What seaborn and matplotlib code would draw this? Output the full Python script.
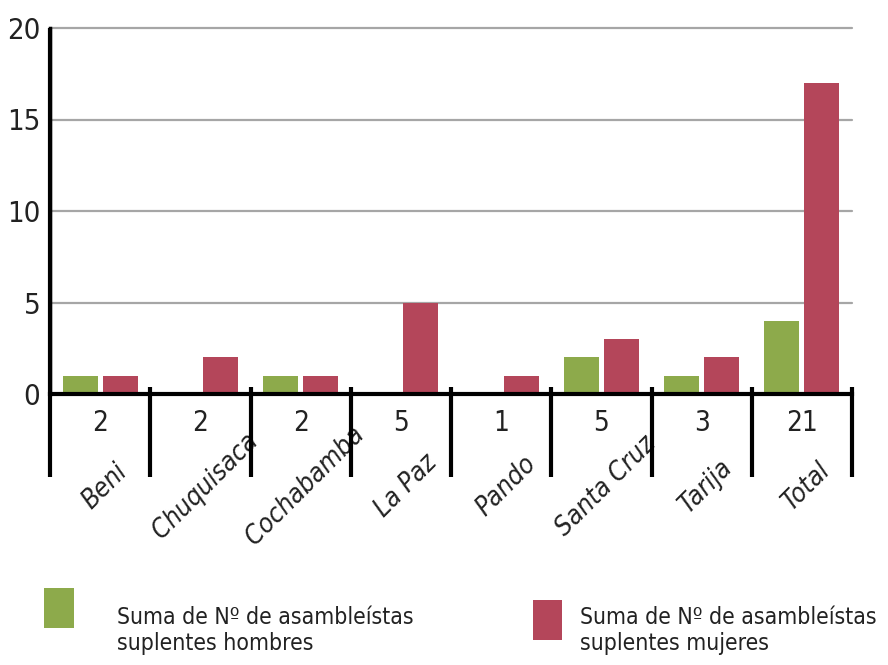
import matplotlib
matplotlib.use('Agg')
import matplotlib.pyplot as plt
import seaborn as sns
import pandas as pd
from matplotlib.patches import Rectangle
from matplotlib.transforms import blended_transform_factory

departamentos = ["Beni", "Chuquisaca", "Cochabamba", "La Paz", "Pando", "Santa Cruz", "Tarija", "Total"]
hombres = [1, 0, 1, 0, 0, 2, 1, 4]
mujeres = [1, 2, 1, 5, 1, 3, 2, 17]
totales = [2, 2, 2, 5, 1, 5, 3, 21]
serie_h = ["Suma de Nº de asambleístas", "suplentes hombres"]
serie_m = ["Suma de Nº de asambleístas", "suplentes mujeres"]
yticks = [0, 5, 10, 15, 20]

GREEN = "#8DAA4B"
RED = "#B4465A"
TXT = "#222222"

sns.set_theme(style="white")
plt.rcParams['font.family'] = ['DejaVu Sans']
plt.rcParams['font.stretch'] = 'condensed'

df = pd.DataFrame({
    "Departamento": departamentos * 2,
    "Valor": hombres + mujeres,
    "Serie": [" ".join(serie_h)] * len(departamentos) + [" ".join(serie_m)] * len(departamentos),
})

fig = plt.figure(figsize=(8.88, 6.65), dpi=100)
ax = fig.add_axes([50 / 888, 1 - 394 / 665, 802 / 888, 366 / 665])
sns.barplot(data=df, x="Departamento", y="Valor", hue="Serie",
            palette=[GREEN, RED], width=0.8, gap=0.125, saturation=1,
            ax=ax, legend=False, edgecolor='none', linewidth=0, errorbar=None)

ax.set_ylim(0, 20)
ax.set_xlim(-0.5, len(departamentos) - 0.5)
ax.set_yticks(yticks)
ax.yaxis.grid(True, color='#a6a6a6', lw=1.6)
for gl in ax.get_ygridlines():
    gl.set_clip_on(False)
ax.xaxis.grid(False)
ax.set_axisbelow(True)
ax.set_xlabel('')
ax.set_ylabel('')
ax.set_xticks(range(len(departamentos)))
ax.set_xticklabels([])
ax.tick_params(axis='x', length=0)
ax.tick_params(axis='y', length=0, pad=7, labelsize=21, labelcolor=TXT)

for s in ['top', 'right']:
    ax.spines[s].set_visible(False)
ax.spines['bottom'].set_color('black')
ax.spines['bottom'].set_linewidth(3)
ax.spines['bottom'].set_zorder(3)
ax.spines['left'].set_color('black')
ax.spines['left'].set_linewidth(2.5)

trans = blended_transform_factory(ax.transData, ax.transAxes)
for k in range(len(departamentos) + 1):
    b = k - 0.5
    ax.plot([b, b], [-0.227, 0.018 if k > 0 else 1.0], transform=trans,
            color='black', lw=3, clip_on=False, solid_capstyle='butt', zorder=4)

for i, (d, t) in enumerate(zip(departamentos, totales)):
    ax.text(i, -0.08, str(t), transform=trans, ha='center', va='center',
            fontsize=20, color=TXT)
    ax.text(i + 0.05, -0.252, d, transform=trans, ha='center', va='center',
            rotation=45, rotation_mode='anchor', fontsize=19,
            style='italic', color=TXT)

# Legend
fig.add_artist(Rectangle((44 / 888, 1 - 628 / 665), 30 / 888, 40 / 665,
                         transform=fig.transFigure, color=GREEN, lw=0))
fig.add_artist(Rectangle((533 / 888, 1 - 640 / 665), 29 / 888, 40 / 665,
                         transform=fig.transFigure, color=RED, lw=0))
for x0, lines in [(117, serie_h), (580, serie_m)]:
    fig.text(x0 / 888, 1 - 624 / 665, lines[0], ha='left', va='baseline',
             fontsize=16.5, color=TXT)
    fig.text(x0 / 888, 1 - 650 / 665, lines[1], ha='left', va='baseline',
             fontsize=16.5, color=TXT)

fig.savefig("out.png", dpi=100)
